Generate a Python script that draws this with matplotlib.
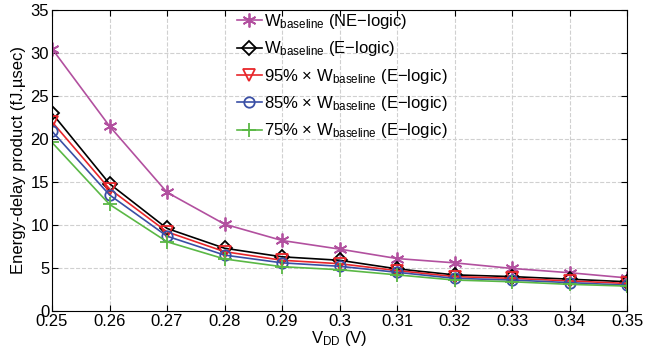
import matplotlib.pyplot as plt
import numpy as np

plt.rcParams['font.family'] = ['Liberation Sans', 'DejaVu Sans']
plt.rcParams['mathtext.fontset'] = 'custom'
plt.rcParams['mathtext.rm'] = 'Liberation Sans'
plt.rcParams['mathtext.it'] = 'Liberation Sans'

vdd = [0.25, 0.26, 0.27, 0.28, 0.29, 0.30, 0.31, 0.32, 0.33, 0.34, 0.35]
edp_ne = [30.5, 21.5, 13.8, 10.1, 8.2, 7.2, 6.1, 5.6, 4.95, 4.45, 3.85]
edp_e = [23.0, 14.8, 9.6, 7.3, 6.3, 5.9, 4.9, 4.2, 4.0, 3.7, 3.4]
edp_95 = [22.0, 14.2, 9.2, 6.9, 5.9, 5.5, 4.7, 4.0, 3.8, 3.5, 3.2]
edp_85 = [20.9, 13.5, 8.7, 6.5, 5.6, 5.2, 4.5, 3.8, 3.6, 3.3, 3.0]
edp_75 = [19.6, 12.4, 8.05, 6.05, 5.15, 4.8, 4.2, 3.6, 3.4, 3.1, 2.9]

# asterisk marker for the NE-logic curve
series = [
    (edp_ne, '#b2509f', (6, 2, 0), 10, r'$\mathregular{W_{baseline}}$ (NE$-$logic)'),
    (edp_e, 'black', 'D', 7, r'$\mathregular{W_{baseline}}$ (E$-$logic)'),
    (edp_95, '#e8262a', 'v', 8, r'95% $\times$ $\mathregular{W_{baseline}}$ (E$-$logic)'),
    (edp_85, '#3a4fa5', 'o', 7.5, r'85% $\times$ $\mathregular{W_{baseline}}$ (E$-$logic)'),
    (edp_75, '#5ab845', '+', 10, r'75% $\times$ $\mathregular{W_{baseline}}$ (E$-$logic)'),
]

fig = plt.figure(figsize=(6.55, 3.5), dpi=100)
ax = fig.add_axes([52 / 655, 1 - 311 / 350, 575 / 655, 301 / 350])

for vals, col, mk, ms, lab in series:
    ax.plot(vdd, vals, color=col, marker=mk, markersize=ms, markerfacecolor='none',
            markeredgecolor=col, markeredgewidth=1.3, linewidth=1.2, label=lab)

ax.set_xlim(0.25, 0.35)
ax.set_ylim(0, 35)
ax.set_xticks(vdd)
ax.set_xticklabels(['0.25', '0.26', '0.27', '0.28', '0.29', '0.3', '0.31', '0.32', '0.33', '0.34', '0.35'])
ax.set_yticks(np.arange(0, 36, 5))
ax.tick_params(direction='in', top=True, right=True, labelsize=12, length=4, pad=2)
ax.grid(True, linestyle='--', color='#d0d0d0', linewidth=0.8)

ax.set_xlabel(r'$\mathregular{V_{DD}}$ (V)', fontsize=12, labelpad=0)
ax.set_ylabel('Energy-delay product (fJ.\u00b5sec)', fontsize=12, labelpad=3)

leg = ax.legend(loc='upper left', bbox_to_anchor=(0.31, 1.015), frameon=False, fontsize=12,
                handlelength=1.5, handletextpad=0.15, labelspacing=0.5, borderaxespad=0)

fig.savefig('out.png', dpi=100)
